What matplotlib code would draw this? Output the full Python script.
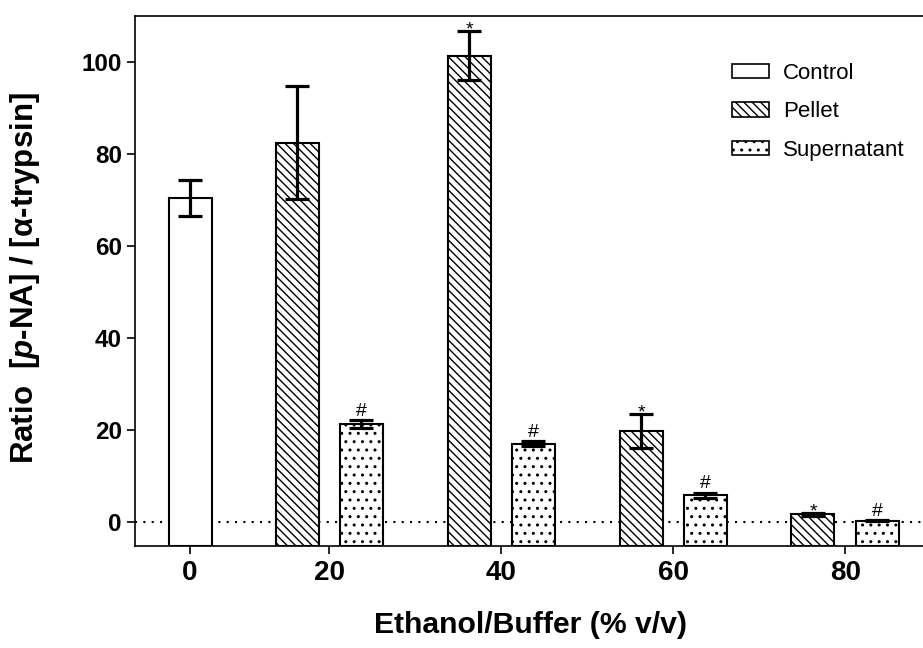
import matplotlib
matplotlib.use("Agg")
import matplotlib.pyplot as plt
from matplotlib.patches import Patch
import numpy as np

plt.rcParams['font.family'] = ['Liberation Sans', 'DejaVu Sans']
plt.rcParams['mathtext.fontset'] = 'custom'
plt.rcParams['mathtext.it'] = 'Liberation Sans:italic:bold'
plt.rcParams['mathtext.rm'] = 'Liberation Sans:bold'
plt.rcParams['hatch.linewidth'] = 1.0

# ---- data ----
tick_labels = ['0', '20', '40', '60', '80']
control_mean = [70.4]
control_err = [3.9]
pellet_mean = [82.5, 101.4, 19.9, 1.7]
pellet_err = [12.3, 5.3, 3.7, 0.3]
sup_mean = [21.4, 17.0, 5.8, 0.3]
sup_err = [0.85, 0.55, 0.6, 0.15]
pellet_marks = ['', '*', '*', '*']
sup_marks = ['#', '#', '#', '#']
legend_labels = ['Control', 'Pellet', 'Supernatant']

# ---- layout ----
fig = plt.figure(figsize=(9.23, 6.48), dpi=100)
W, H = 923, 648
ax_l, ax_r, ax_t, ax_b = 135, 938, 16, 546
ax = fig.add_axes([ax_l / W, 1 - ax_b / H, (ax_r - ax_l) / W, (ax_b - ax_t) / H])

ymin, ymax = -5.2, 110
tick_pos = np.array([0.0, 0.81, 1.81, 2.81, 3.81])
group_pos = tick_pos[1:]
off = 0.187
bw = 0.25

ax.axhline(0, color='black', lw=1.5, linestyle=(0, (1, 3)), zorder=0)

bar_kw = dict(width=bw, edgecolor='black', linewidth=1.5, zorder=2, bottom=ymin)
err_kw = dict(fmt='none', ecolor='black', elinewidth=2.3, capsize=8.5, capthick=2.3, zorder=3)

ax.bar(tick_pos[:1], np.array(control_mean) - ymin, color='white', **bar_kw)
ax.errorbar(tick_pos[:1], control_mean, yerr=control_err, **err_kw)

ax.bar(group_pos - off, np.array(pellet_mean) - ymin, color='white', hatch='\\\\\\\\', **bar_kw)
ax.errorbar(group_pos - off, pellet_mean, yerr=pellet_err, **err_kw)

ax.bar(group_pos + off, np.array(sup_mean) - ymin, color='white', hatch='..', **bar_kw)
ax.errorbar(group_pos + off, sup_mean, yerr=sup_err, **err_kw)

for x, m, e, t in zip(group_pos - off, pellet_mean, pellet_err, pellet_marks):
    if t:
        ax.annotate(t, xy=(x, m + e), xytext=(0, -2.5), textcoords='offset points',
                    ha='center', va='baseline', fontsize=14)
for x, m, e, t in zip(group_pos + off, sup_mean, sup_err, sup_marks):
    if t:
        ax.annotate(t, xy=(x, m + e), xytext=(0, 3), textcoords='offset points',
                    ha='center', va='baseline', fontsize=14)

ax.set_xlim(-0.32, 4.35)
ax.set_ylim(ymin, ymax)
ax.set_xticks(tick_pos)
ax.set_xticklabels(tick_labels, fontsize=20, fontweight='bold')
ax.set_yticks([0, 20, 40, 60, 80, 100])
ax.set_yticklabels(['0', '20', '40', '60', '80', '100'], fontsize=17.5, fontweight='bold')
ax.tick_params(axis='both', direction='out', length=6, width=1.2)
ax.tick_params(axis='x', pad=4)
ax.tick_params(axis='y', pad=3.5)

for s in ['left', 'bottom', 'top']:
    ax.spines[s].set_linewidth(1.2)
ax.spines['right'].set_visible(False)

ax.set_ylabel('Ratio  [$\\mathit{p}$-NA] / [\u03b1-trypsin]', fontsize=22.5, fontweight='bold')
ax.yaxis.set_label_coords((42 - ax_l) / (ax_r - ax_l), (ax_b - 278) / (ax_b - ax_t))
ax.set_xlabel('Ethanol/Buffer (% v/v)', fontsize=21.7, fontweight='bold')
ax.xaxis.set_label_coords((531 - ax_l) / (ax_r - ax_l), -(611 - ax_b) / (ax_b - ax_t))

handles = [Patch(facecolor='white', edgecolor='black', linewidth=1.2),
           Patch(facecolor='white', edgecolor='black', linewidth=1.2, hatch='\\\\\\\\'),
           Patch(facecolor='white', edgecolor='black', linewidth=1.2, hatch='..')]
fig.legend(handles, legend_labels, loc='upper left',
           bbox_to_anchor=(732 / W, 1 - 63 / H), bbox_transform=fig.transFigure,
           frameon=False, fontsize=16, handlelength=1.65, handleheight=0.6,
           handletextpad=0.65, labelspacing=0.78, borderpad=0, borderaxespad=0)

fig.savefig('out.png', dpi=100)
